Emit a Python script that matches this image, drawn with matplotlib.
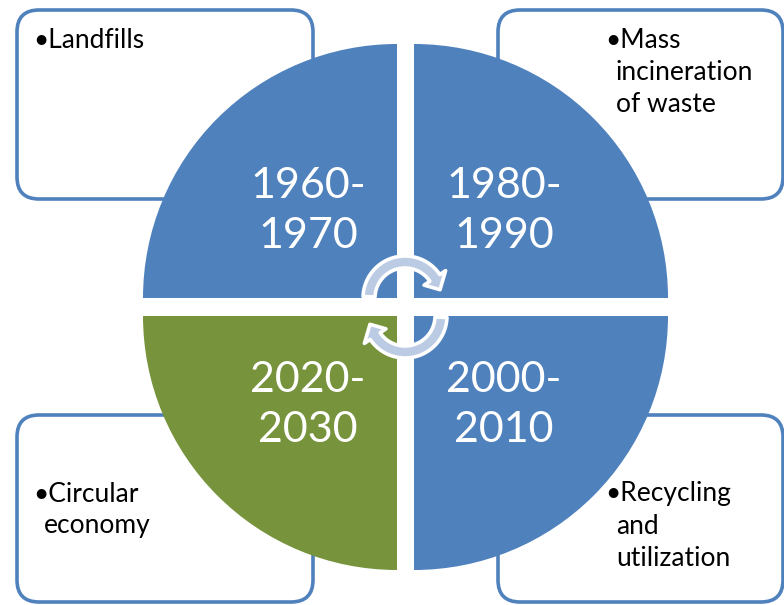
import numpy as np
import matplotlib.pyplot as plt
from matplotlib.patches import Wedge, FancyBboxPatch, Polygon

# Timeline of waste handling, one quadrant per period
periods = ["1960-\n1970", "1980-\n1990", "2000-\n2010", "2020-\n2030"]
notes = [["Landfills"],
         ["Mass", "incineration", "of waste"],
         ["Recycling", "and", "utilization"],
         ["Circular", "economy"]]
quad_colors = ["#4f81bd", "#4f81bd", "#4f81bd", "#77933c"]

BLUE = "#4f81bd"
W, H = 784, 605

fig = plt.figure(figsize=(W / 100, H / 100), dpi=100)
ax = fig.add_axes([0, 0, 1, 1])
ax.set_xlim(0, W)
ax.set_ylim(H, 0)
ax.set_aspect("equal")
ax.axis("off")

plt.rcParams["font.family"] = ["Lato", "DejaVu Sans"]

# outer text boxes (TL, TR, BR, BL)
boxes = [(17, 10, 313, 199), (498, 10, 783, 199),
         (498, 415, 783, 602), (17, 415, 313, 602)]
for x0, y0, x1, y1 in boxes:
    ax.add_patch(FancyBboxPatch((x0, y0), x1 - x0, y1 - y0,
                                boxstyle="round,pad=0,rounding_size=22",
                                fc="white", ec=BLUE, lw=2.6, zorder=1))

# quadrants of the circle; y axis points down so angles run clockwise on screen
R = 254
apex = [(397, 298), (414, 298), (414, 316), (397, 316)]
angles = [(180, 270), (270, 360), (0, 90), (90, 180)]
for (cx, cy), (a0, a1), c in zip(apex, angles, quad_colors):
    ax.add_patch(Wedge((cx, cy), R, a0, a1, fc=c, ec="none", zorder=2))

# period labels
label_pos = [(308, 211), (504, 211), (504, 405), (308, 405)]
for (x, y), txt in zip(label_pos, periods):
    ax.text(x, y, txt, color="white", fontsize=31, ha="center", va="center",
            linespacing=1.4, zorder=5)

# bullet notes: bullet glued to the first line, later lines hang-indented
note_pos = [(33, 40), (605, 40), (605, 494), (33, 494)]
line_h = 32
for (x, y), lines in zip(note_pos, notes):
    ax.text(x, y, "\u2022" + lines[0], fontsize=19, ha="left", va="center",
            zorder=6)
    for i, ln in enumerate(lines[1:], start=1):
        ax.text(x + 11, y + i * line_h, ln, fontsize=19, ha="left",
                va="center", zorder=6)


def arc_arrow(cx, cy, r_in, r_out, a_start, a_end, head=7, tip_len=13):
    # thick arc from a_start to a_end (degrees, screen-clockwise), with a head at a_end
    t = np.radians(np.linspace(a_start, a_end, 40))
    outer = np.column_stack([cx + r_out * np.cos(t), cy + r_out * np.sin(t)])
    inner = np.column_stack([cx + r_in * np.cos(t), cy + r_in * np.sin(t)])[::-1]
    te = np.radians(a_end)
    rm = (r_in + r_out) / 2
    sgn = np.sign(a_end - a_start)
    tip_a = te + sgn * tip_len / rm
    wing_out = [cx + (r_out + head) * np.cos(te), cy + (r_out + head) * np.sin(te)]
    wing_in = [cx + (r_in - head) * np.cos(te), cy + (r_in - head) * np.sin(te)]
    tip = [cx + rm * np.cos(tip_a), cy + rm * np.sin(tip_a)]
    pts = np.vstack([outer, [wing_out, tip, wing_in], inner])
    ax.add_patch(Polygon(pts, closed=True, fc="#bccbe4", ec="white",
                         lw=2.6, zorder=4, joinstyle="round"))


arc_arrow(405, 298, 30, 42, 182, 326)
arc_arrow(405, 316, 30, 42, 2, 146)

fig.savefig("out.png", dpi=100)
